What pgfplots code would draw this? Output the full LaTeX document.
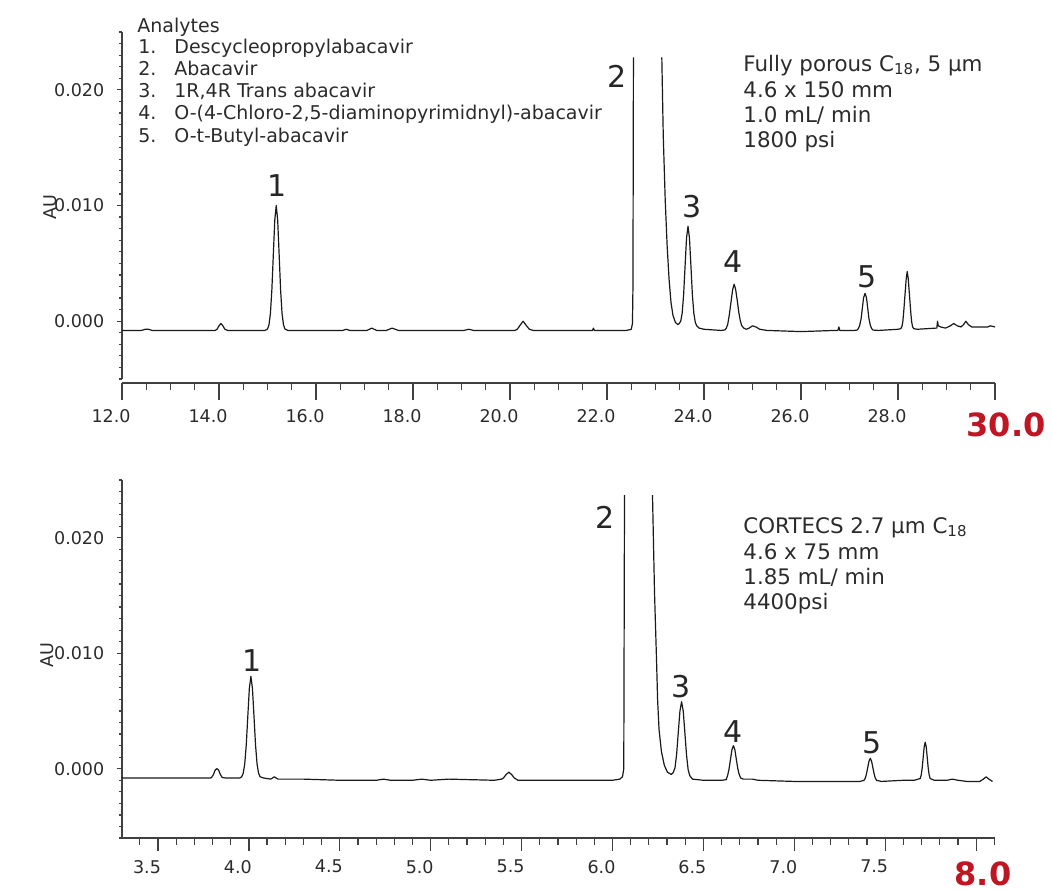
\documentclass[border=0pt]{standalone}
\usepackage{fontspec}
\setmainfont{DejaVu Sans}
\usepackage{pgfplots}
\pgfplotsset{compat=1.18}

\definecolor{txt}{RGB}{43,43,43}
\definecolor{redlab}{RGB}{190,22,34}

\pgfplotsset{
  chrom/.style={scale only axis, width=436.5pt, anchor=south west,
    tick align=outside, scaled ticks=false,
    axis line style={line width=0.75pt, black!75},
    tick style={line width=0.6pt, black!75},
    ticklabel style={font=\fontsize{8.75}{10}\selectfont, text=txt}},
  yonly/.style={chrom, axis y line*=left, hide x axis,
    major tick length=2.6pt, minor tick length=1.3pt,
    ytick={0,0.01,0.02}, yticklabels={0.000,0.010,0.020},
    yticklabel style={xshift=-2.75pt}},
  xonly/.style={chrom, axis x line*=bottom, hide y axis,
    minor tick length=3.5pt,
    xticklabel style={xshift=-5.5pt, yshift=-1pt}},
}
\tikzset{
  trace/.style={black!90, line width=0.6pt, line join=round},
  pk/.style={font=\fontsize{15}{17}\selectfont, text=black!85},
}
\newcommand{\ana}{\fontsize{9.5}{11}\selectfont}
\newcommand{\info}{\fontsize{10.7}{12.6}\selectfont}

\begin{document}
\begin{tikzpicture}
\useasboundingbox (0,0) rectangle (526pt,-445pt);

% ---------------- top: fully porous column ----------------
\begin{axis}[yonly, at={(61pt,-189.5pt)}, height=173.5pt,
  xmin=12, xmax=30, ymin=-0.005, ymax=0.025,
  minor ytick={-0.005,-0.004,...,0.025}]
  \addplot[trace] coordinates {
    (12.00,-0.0008) (12.40,-0.0008) (12.48,-0.0007) (12.55,-0.0007) (12.62,-0.0008)
    (13.00,-0.0008) (13.50,-0.0008) (13.92,-0.0008)
    (13.96,-0.0007) (14.00,-0.0004) (14.04,-0.0002) (14.08,-0.0004) (14.12,-0.0007) (14.18,-0.0008)
    (14.60,-0.0008) (14.95,-0.0008)
    (15.00,-0.00068) (15.03,-0.00033) (15.06,0.00066) (15.09,0.00271) (15.12,0.00576)
    (15.15,0.00873) (15.18,0.0100) (15.21,0.00873) (15.24,0.00576) (15.27,0.00271)
    (15.30,0.00066) (15.33,-0.00033) (15.36,-0.00068) (15.42,-0.0008)
    (16.00,-0.0008) (16.55,-0.0008) (16.62,-0.0007) (16.70,-0.0008) (17.05,-0.0008)
    (17.15,-0.0006) (17.25,-0.0008) (17.45,-0.0008) (17.57,-0.0006) (17.70,-0.0008)
    (18.50,-0.0008) (19.05,-0.0008) (19.15,-0.0007) (19.25,-0.0008) (20.10,-0.0008)
    (20.15,-0.0007) (20.20,-0.0004) (20.27,0.0000) (20.34,-0.0004) (20.40,-0.0007) (20.48,-0.0008)
    (21.60,-0.0008) (21.70,-0.0008) (21.72,-0.0006) (21.74,-0.0008) (22.40,-0.0008)
    (22.50,-0.0007) (22.525,-0.0002) (22.535,0.003) (22.545,0.0228)
  };
  \addplot[trace] coordinates {
    (23.13,0.0228) (23.16,0.016) (23.20,0.0105) (23.24,0.0065) (23.28,0.0036)
    (23.32,0.0016) (23.36,0.0005) (23.41,-0.0001) (23.46,-0.0003) (23.49,-0.0002)
    (23.52,0.0000) (23.55,0.0007) (23.58,0.0023) (23.61,0.0048) (23.64,0.0072)
    (23.67,0.0082) (23.70,0.0072) (23.73,0.0048) (23.76,0.0023) (23.79,0.0007)
    (23.82,-0.0001) (23.85,-0.0004) (23.90,-0.0006) (24.00,-0.0007) (24.35,-0.0008)
    (24.43,-0.00076) (24.46,-0.0006) (24.49,-0.00026) (24.52,0.0005) (24.555,0.0016)
    (24.59,0.0027) (24.62,0.0032) (24.65,0.0028) (24.685,0.0018) (24.72,0.0007)
    (24.75,0.0000) (24.78,-0.0004) (24.82,-0.0006) (24.87,-0.0007)
    (24.93,-0.0006) (25.00,-0.0004) (25.07,-0.0005) (25.15,-0.0007) (25.30,-0.0008)
    (26.00,-0.0009) (26.70,-0.0008) (26.76,-0.0008) (26.78,-0.0005) (26.80,-0.0008) (27.10,-0.0008)
    (27.155,-0.00077) (27.18,-0.00066) (27.21,-0.00037) (27.24,0.00024) (27.265,0.00114)
    (27.29,0.00202) (27.32,0.0024) (27.35,0.00202) (27.375,0.00114) (27.40,0.00024)
    (27.43,-0.00037) (27.46,-0.00066) (27.485,-0.00077) (27.60,-0.0008) (28.00,-0.0007)
    (28.055,-0.00065) (28.08,-0.00048) (28.10,-0.00002) (28.12,0.00093) (28.145,0.00234)
    (28.17,0.00371) (28.19,0.0043) (28.21,0.00371) (28.235,0.00234) (28.26,0.00093)
    (28.28,-0.00002) (28.30,-0.00048) (28.325,-0.00065) (28.40,-0.0007)
    (28.78,-0.0006) (28.80,-0.0006) (28.815,0.0000) (28.83,-0.0004) (28.88,-0.0005)
    (28.98,-0.0006) (29.08,-0.0004) (29.15,-0.0002) (29.22,-0.0004) (29.30,-0.0005)
    (29.35,-0.0003) (29.40,0.0000) (29.45,-0.0003) (29.52,-0.0005) (29.70,-0.0005)
    (29.85,-0.0005) (29.90,-0.0004) (30.00,-0.0005)
  };
  \node[pk] at (axis cs:15.20,0.01175) {1};
  \node[pk] at (axis cs:22.21,0.02118) {2};
  \node[pk] at (axis cs:23.75,0.00994) {3};
  \node[pk] at (axis cs:24.60,0.00519) {4};
  \node[pk] at (axis cs:27.36,0.0038) {5};
\end{axis}
\begin{axis}[xonly, at={(61pt,-189.5pt)}, height=173.5pt,
  xmin=12, xmax=30, ymin=-0.005, ymax=0.025,
  axis x line shift=2pt, major tick length=8.5pt,
  xtick={12,14,...,30},
  xticklabels={12.0,14.0,16.0,18.0,20.0,22.0,24.0,26.0,28.0,{}},
  minor xtick={12,12.5,...,30}]
\end{axis}

% ---------------- bottom: CORTECS column ----------------
\begin{axis}[yonly, at={(61pt,-419pt)}, height=179pt,
  xmin=3.302, xmax=8.104, ymin=-0.006, ymax=0.025,
  minor ytick={-0.006,-0.005,...,0.025}]
  \addplot[trace] coordinates {
    (3.302,-0.0008) (3.50,-0.0008) (3.75,-0.0008) (3.79,-0.0008)
    (3.795,-0.00075) (3.805,-0.0005) (3.815,-0.0001) (3.824,0.0000) (3.833,-0.0001)
    (3.843,-0.0005) (3.853,-0.00075) (3.87,-0.0008) (3.95,-0.0008)
    (3.96,-0.0007) (3.9685,-0.00041) (3.977,0.00039) (3.9855,0.00206) (3.994,0.00454)
    (4.0025,0.00696) (4.011,0.0080) (4.0195,0.00696) (4.028,0.00454) (4.0365,0.00206)
    (4.045,0.00039) (4.0535,-0.00041) (4.062,-0.0007) (4.08,-0.0008)
    (4.12,-0.0009) (4.14,-0.0007) (4.16,-0.0009) (4.30,-0.0009) (4.50,-0.0010)
    (4.70,-0.0010) (4.74,-0.0009) (4.78,-0.0010) (4.90,-0.0010) (4.95,-0.0009)
    (5.00,-0.0010) (5.10,-0.0009) (5.35,-0.0010) (5.39,-0.0009)
    (5.40,-0.0008) (5.415,-0.0005) (5.43,-0.0003) (5.445,-0.0005) (5.46,-0.0008) (5.48,-0.0010)
    (5.70,-0.0010) (6.00,-0.0010) (6.04,-0.0009) (6.055,-0.0007) (6.062,0.0000) (6.066,0.0237)
  };
  \addplot[trace] coordinates {
    (6.22,0.0237) (6.231,0.0153) (6.242,0.0095) (6.248,0.0060) (6.256,0.0034)
    (6.269,0.0015) (6.285,0.0003) (6.302,-0.0003) (6.324,-0.0005)
    (6.335,-0.0003) (6.344,0.0001) (6.353,0.0013) (6.362,0.0032) (6.371,0.0050)
    (6.38,0.0058) (6.389,0.0050) (6.398,0.00313) (6.407,0.00121) (6.416,-0.00008)
    (6.425,-0.0006) (6.44,-0.0009) (6.50,-0.0010) (6.60,-0.0010)
    (6.625,-0.00095) (6.633,-0.0006) (6.641,-0.00003) (6.649,0.00082) (6.657,0.00165)
    (6.665,0.0020) (6.673,0.00165) (6.681,0.00082) (6.689,0.00003) (6.697,-0.0005)
    (6.705,-0.0008) (6.72,-0.0009) (6.75,-0.0009) (6.77,-0.0009) (6.80,-0.0010)
    (7.00,-0.0011) (7.30,-0.0011) (7.36,-0.0011)
    (7.383,-0.00101) (7.39,-0.00083) (7.397,-0.00045) (7.404,0.00011) (7.411,0.00066)
    (7.418,0.0009) (7.425,0.00066) (7.432,0.00011) (7.439,-0.00045) (7.446,-0.00083)
    (7.453,-0.00101) (7.48,-0.0011) (7.60,-0.0010) (7.66,-0.0010)
    (7.6925,-0.00085) (7.698,-0.00055) (7.7035,0.00007) (7.709,0.0010) (7.7145,0.00191)
    (7.72,0.0023) (7.7255,0.00191) (7.731,0.0010) (7.7365,0.00007) (7.742,-0.00055)
    (7.7475,-0.00085) (7.77,-0.0010) (7.84,-0.0010) (7.87,-0.0009) (7.90,-0.0010)
    (7.95,-0.0011) (8.02,-0.0011) (8.04,-0.0009) (8.055,-0.0007) (8.07,-0.0009) (8.09,-0.0011)
  };
  \node[pk] at (axis cs:4.016,0.00935) {1};
  \node[pk] at (axis cs:5.96,0.02173) {2};
  \node[pk] at (axis cs:6.379,0.0071) {3};
  \node[pk] at (axis cs:6.665,0.0032) {4};
  \node[pk] at (axis cs:7.429,0.00225) {5};
\end{axis}
\begin{axis}[xonly, at={(61pt,-419pt)}, height=179pt,
  xmin=3.302, xmax=8.104, ymin=-0.006, ymax=0.025,
  major tick length=6.5pt,
  xtick={3.5,4.0,...,8.0},
  xticklabels={3.5,4.0,4.5,5.0,5.5,6.0,6.5,7.0,7.5,{}},
  minor xtick={3.3,3.4,...,8.1}]
\end{axis}

% ---------------- texts ----------------
\begin{scope}[every node/.style={inner sep=0pt, text=txt}]
  \node[rotate=90, font=\fontsize{8.75}{10}\selectfont] at (25pt,-103.5pt) {AU};
  \node[rotate=90, font=\fontsize{8.75}{10}\selectfont] at (23.5pt,-327.5pt) {AU};

  \node[anchor=base west, font=\ana] at (68.5pt,-16pt) {Analytes};
  \node[anchor=base west, font=\ana] at (69pt,-26.5pt) {1.};
  \node[anchor=base west, font=\ana] at (87pt,-26.5pt) {Descycleopropylabacavir};
  \node[anchor=base west, font=\ana] at (69pt,-37.65pt) {2.};
  \node[anchor=base west, font=\ana] at (87pt,-37.65pt) {Abacavir};
  \node[anchor=base west, font=\ana] at (69pt,-48.8pt) {3.};
  \node[anchor=base west, font=\ana] at (87pt,-48.8pt) {1R,4R Trans abacavir};
  \node[anchor=base west, font=\ana] at (69pt,-59.95pt) {4.};
  \node[anchor=base west, font=\ana] at (87pt,-59.95pt) {O-(4-Chloro-2,5-diaminopyrimidnyl)-abacavir};
  \node[anchor=base west, font=\ana] at (69pt,-71.1pt) {5.};
  \node[anchor=base west, font=\ana] at (87pt,-71.1pt) {O-t-Butyl-abacavir};

  \node[anchor=base west, font=\info] at (371.5pt,-35.5pt) {Fully porous C\textsubscript{18}, 5 µm};
  \node[anchor=base west, font=\info] at (371.5pt,-48.5pt) {4.6 x 150 mm};
  \node[anchor=base west, font=\info] at (371.5pt,-61pt) {1.0 mL/ min};
  \node[anchor=base west, font=\info] at (371.5pt,-73.5pt) {1800 psi};

  \node[anchor=base west, font=\info] at (371.5pt,-266.5pt) {CORTECS 2.7 µm C\textsubscript{18}};
  \node[anchor=base west, font=\info] at (371.5pt,-279.5pt) {4.6 x 75 mm};
  \node[anchor=base west, font=\info] at (371.5pt,-292pt) {1.85 mL/ min};
  \node[anchor=base west, font=\info] at (371.5pt,-304.5pt) {4400psi};

  \node[anchor=base, text=redlab, font=\fontsize{16}{18}\selectfont\bfseries] at (503pt,-218pt) {30.0};
  \node[anchor=base, text=redlab, font=\fontsize{16}{18}\selectfont\bfseries] at (491.5pt,-442.5pt) {8.0};
\end{scope}
\end{tikzpicture}
\end{document}
